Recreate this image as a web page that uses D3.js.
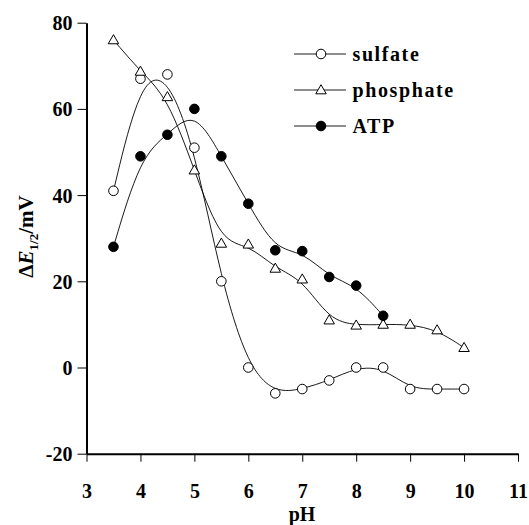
<!DOCTYPE html>
<html><head><meta charset="utf-8">
<script src="https://cdn.jsdelivr.net/npm/d3@7"></script>
<style>body{margin:0;background:#fff}svg{display:block}text{font-family:"Liberation Serif","Times New Roman",serif}</style>
</head><body><svg id="c" width="529" height="525"></svg>
<script>
const pH = [3.5,4,4.5,5,5.5,6,6.5,7,7.5,8,8.5,9,9.5,10];
const sulfate = [41,67,68,51,20,0,-6,-5,-3,0,0,-5,-5,-5];
const phosphate = [76,68.7,62.8,45.8,28.8,28.6,23,20.5,11,9.8,10,10,8.7,4.6];
const atpPH = [3.5,4,4.5,5,5.5,6,6.5,7,7.5,8,8.5];
const atp = [28,49,54,60,49,38,27.2,27,21,19,12];
const xTicks = [3,4,5,6,7,8,9,10,11];
const yTicks = [-20,0,20,40,60,80];
const seriesNames = ["sulfate","phosphate","ATP"];

const svg = d3.select("#c");
const x = d3.scaleLinear().domain([3,11]).range([86.5,518]);
const y = d3.scaleLinear().domain([-20,80]).range([453.7,22.7]);

// axes
const xa = svg.append("g").attr("transform","translate(0,453.7)")
  .call(d3.axisBottom(x).tickValues(xTicks).tickFormat(d=>String(d)).tickSize(8).tickSizeOuter(0).tickPadding(22));
const ya = svg.append("g").attr("transform","translate(86.5,0)")
  .call(d3.axisLeft(y).tickValues(yTicks).tickFormat(d=>String(d)).tickSize(9).tickSizeOuter(0).tickPadding(5));
[xa,ya].forEach(a=>{
  a.select(".domain").attr("stroke","#000").attr("stroke-width",2);
  a.selectAll(".tick line").attr("stroke","#000").attr("stroke-width",1);
  a.selectAll(".tick text").attr("fill","#000").attr("font-size",20).attr("font-weight","bold");
});
ya.selectAll(".tick text").attr("dy","0.35em");

const line = d3.line().curve(d3.curveBasis).x(d=>x(d[0])).y(d=>y(d[1]));
const sData = pH.map((p,i)=>[p,sulfate[i]]);
const pData = pH.map((p,i)=>[p,phosphate[i]]);
const aData = atpPH.map((p,i)=>[p,atp[i]]);
[sData,pData,aData].forEach(d=>{
  svg.append("path").datum(d).attr("d",line).attr("fill","none").attr("stroke","#000").attr("stroke-width",0.9);
});

const tri = d3.symbol().type(d3.symbolTriangle).size(48);
function circ(g,d,fill){
  g.selectAll(null).data(d).enter().append("circle").attr("cx",v=>x(v[0])).attr("cy",v=>y(v[1]))
   .attr("r",4.8).attr("fill",fill).attr("stroke","#000").attr("stroke-width",1);
}
function tris(g,d){
  g.selectAll(null).data(d).enter().append("path").attr("d",tri)
   .attr("transform",v=>`translate(${x(v[0])},${y(v[1])+0.8})`)
   .attr("fill","#fff").attr("stroke","#000").attr("stroke-width",1);
}
circ(svg.append("g"),sData,"#fff");
tris(svg.append("g"),pData);
circ(svg.append("g"),aData,"#000");

// legend
const lg = svg.append("g");
const rows = [54,90,126];
seriesNames.forEach((n,i)=>{
  const yy = rows[i];
  lg.append("line").attr("x1",294).attr("x2",346).attr("y1",yy).attr("y2",yy).attr("stroke","#000").attr("stroke-width",0.9);
  if(i===0) lg.append("circle").attr("cx",321).attr("cy",yy).attr("r",4.8).attr("fill","#fff").attr("stroke","#000");
  if(i===1) lg.append("path").attr("d",tri).attr("transform",`translate(321,${yy+0.8})`).attr("fill","#fff").attr("stroke","#000");
  if(i===2) lg.append("circle").attr("cx",321).attr("cy",yy).attr("r",4.8).attr("fill","#000").attr("stroke","#000");
  lg.append("text").attr("x",352.5).attr("y",yy+6.5).attr("font-size",20).attr("font-weight","bold")
    .attr("letter-spacing",1.6).text(n);
});

// axis titles
svg.append("text").attr("x",302).attr("y",521).attr("text-anchor","middle")
  .attr("font-size",20).attr("font-weight","bold").text("pH");
const yt = svg.append("text").attr("transform","translate(33,236.5) rotate(-90)")
  .attr("text-anchor","middle").attr("font-size",21).attr("font-weight","bold");
yt.append("tspan").text("Δ");
yt.append("tspan").attr("font-style","italic").text("E");
yt.append("tspan").attr("font-size",13).attr("dy",5).text("1/2");
yt.append("tspan").attr("dy",-5).text("/mV");
</script></body></html>
